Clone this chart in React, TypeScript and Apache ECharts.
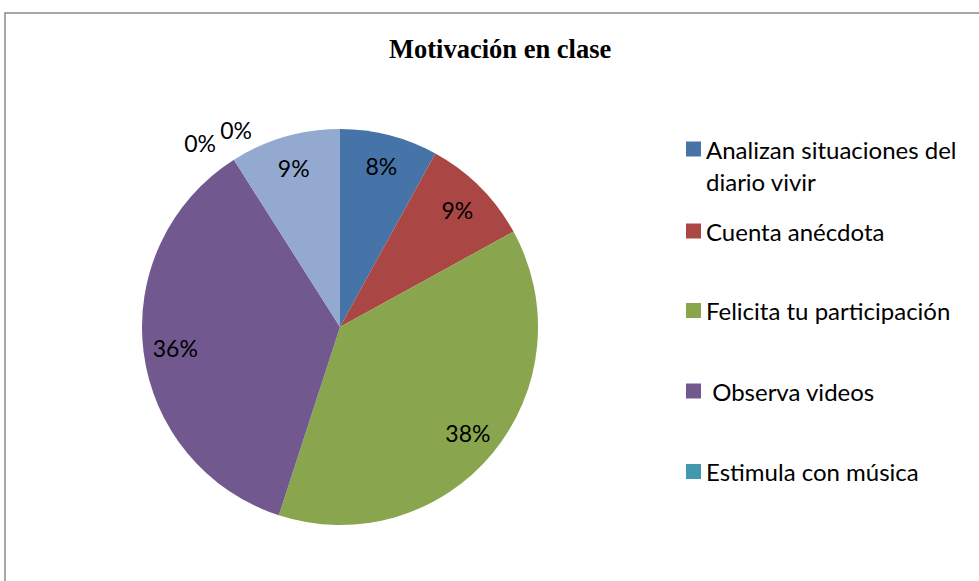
import { useEffect, useRef } from 'react';
import * as echarts from 'echarts';

const categories = [
  'Analizan situaciones del diario vivir',
  'Cuenta anécdota',
  'Felicita tu participación',
  ' Observa videos',
  'Estimula con música',
  'Categoría 6',
  'Categoría 7',
];
const values = [8, 9, 38, 36, 0, 0, 9];
const colors = ['#4674A8', '#AA4643', '#89A54E', '#71588F', '#4198AF', '#DB843D', '#93A9CF'];
const legendNames = categories.slice(0, 5);
const legendCenters = [149, 231, 310.5, 391, 471.5];
const title = 'Motivación en clase';

const wrap = (s: string, max: number) => {
  const lead = s.match(/^\s*/)![0];
  const words = s.trim().split(' ');
  const lines: string[] = [];
  let cur = '';
  for (const w of words) {
    const next = cur ? cur + ' ' + w : w;
    if (next.length > max && cur) {
      lines.push(cur);
      cur = w;
    } else cur = next;
  }
  if (cur) lines.push(cur);
  return lead + lines.join('\n');
};

export default function App() {
  const ref = useRef<HTMLDivElement>(null);
  useEffect(() => {
    const chart = echarts.init(ref.current!, null, { renderer: 'svg' });
    const font = 'Lato';
    const zeroOffsets: Record<number, number[]> = { 4: [-51, -44], 5: [-15, -57] };
    const legends = legendNames.map((n, i) => {
      const text = wrap(n, 25);
      const nLines = text.split('\n').length;
      return {
        orient: 'vertical',
        left: 681,
        top: nLines > 1 ? legendCenters[i] - 5 - 16 * (2 * nLines - 1) : legendCenters[i] - 21,
        itemWidth: 15,
        itemHeight: 15,
        itemGap: 0,
        icon: 'rect',
        selectedMode: false,
        data: [n],
        // leading blank line keeps the icon level with the first text line
        formatter: (name: string) => {
          const t = wrap(name, 25);
          const k = t.split('\n').length - 1;
          return k > 0 ? '\n'.repeat(k) + t : t;
        },
        textStyle: {
          fontFamily: font,
          fontSize: 24,
          color: '#000',
          lineHeight: 32,
        },
      };
    });
    chart.setOption({
      animation: false,
      color: colors,
      title: {
        text: title,
        left: 384,
        top: 30,
        textStyle: { fontFamily: 'Liberation Serif', fontWeight: 'bold', fontSize: 26.5, color: '#000' },
      },
      legend: legends,
      graphic: [
        {
          type: 'rect',
          shape: { x: 5, y: 13, width: 1500, height: 1500 },
          style: { fill: 'none', stroke: '#8a8a8a', lineWidth: 1.5 },
          silent: true,
        },
      ],
      series: [
        {
          type: 'pie',
          center: [340, 327],
          radius: 198,
          startAngle: 90,
          clockwise: true,
          label: { show: false },
          labelLine: { show: false },
          emphasis: { disabled: true },
          silent: true,
          data: categories.map((c, i) => ({ name: c, value: values[i] })),
        },
        {
          type: 'pie',
          center: [340, 327],
          radius: [128, 198],
          startAngle: 90,
          clockwise: true,
          silent: true,
          emphasis: { disabled: true },
          itemStyle: { color: 'rgba(0,0,0,0)' },
          labelLine: { show: false },
          avoidLabelOverlap: false,
          label: {
            show: true,
            position: 'inside',
            color: '#000',
            fontFamily: font,
            fontSize: 23,
            formatter: (p: any) => Math.round(p.percent) + '%',
          },
          data: categories.map((c, i) => ({
            name: c + ' ',
            value: values[i],
            label: zeroOffsets[i] ? { offset: zeroOffsets[i] } : undefined,
          })),
        },
      ],
    });
    return () => chart.dispose();
  }, []);
  return (
    <div
      ref={ref}
      style={{ position: 'fixed', left: 0, top: 0, width: 979, height: 581, background: '#fff' }}
    />
  );
}
